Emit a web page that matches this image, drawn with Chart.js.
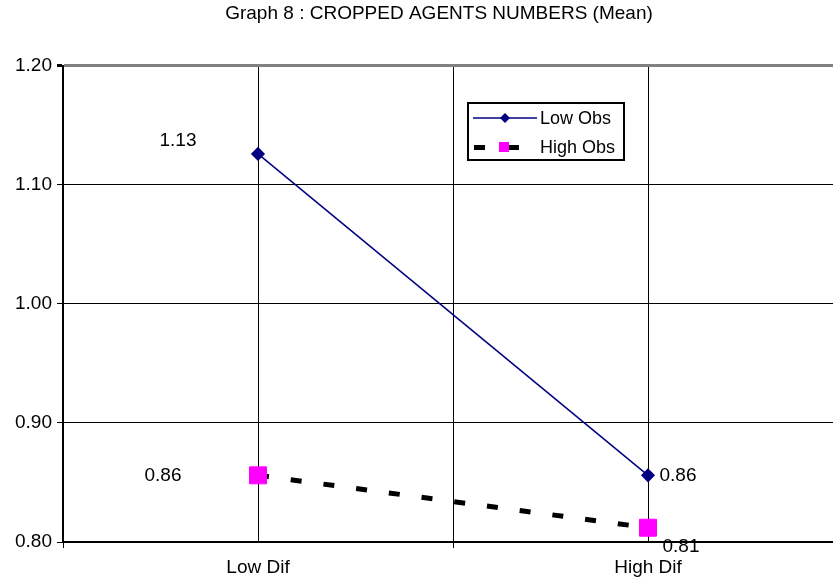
<!DOCTYPE html>
<html>
<head>
<meta charset="utf-8">
<script src="https://cdn.jsdelivr.net/npm/chart.js@4"></script>
<style>
  html, body { margin: 0; padding: 0; background: #fff; overflow: hidden; }
  #wrap { position: relative; width: 878px; height: 583px; }
</style>
</head>
<body>
<div id="wrap"><canvas id="myChart"></canvas></div>
<script>
var categories = ['Low Dif', 'High Dif'];
var lowObs = [1.126, 0.856];
var highObs = [0.856, 0.812];
var seriesNames = ['Low Obs', 'High Obs'];
var yTicks = { min: 0.8, max: 1.2, step: 0.1 };

// where each value label sits relative to its point (px)
var labelOffsets = [
  [[-80, -13], [30, 0]],
  [[-95, 0], [33, 19]]
];

Chart.defaults.font.family = 'Arial, "Liberation Sans", sans-serif';
Chart.defaults.color = '#000';

var valueLabels = {
  id: 'valueLabels',
  afterDatasetsDraw: function (chart) {
    var ctx = chart.ctx;
    ctx.save();
    ctx.font = '19px Arial, "Liberation Sans", sans-serif';
    ctx.fillStyle = '#000';
    ctx.textAlign = 'center';
    ctx.textBaseline = 'middle';
    chart.data.datasets.forEach(function (ds, i) {
      chart.getDatasetMeta(i).data.forEach(function (pt, j) {
        var off = labelOffsets[i][j];
        ctx.fillText(ds.data[j].toFixed(2), pt.x + off[0], pt.y + off[1]);
      });
    });
    ctx.restore();
  }
};

var boxLegend = {
  id: 'boxLegend',
  afterDraw: function (chart) {
    var ctx = chart.ctx;
    var ds = chart.data.datasets;
    ctx.save();
    ctx.fillStyle = '#fff';
    ctx.fillRect(468, 103, 156, 57);
    ctx.lineWidth = 2;
    ctx.strokeStyle = '#000';
    ctx.strokeRect(468, 103, 156, 57);
    // Low Obs
    ctx.strokeStyle = ds[0].borderColor;
    ctx.lineWidth = 1.5;
    ctx.beginPath();
    ctx.moveTo(473, 118);
    ctx.lineTo(537, 118);
    ctx.stroke();
    ctx.fillStyle = ds[0].borderColor;
    ctx.beginPath();
    ctx.moveTo(505, 113); ctx.lineTo(510, 118); ctx.lineTo(505, 123); ctx.lineTo(500, 118);
    ctx.closePath();
    ctx.fill();
    // High Obs
    ctx.fillStyle = '#000';
    ctx.fillRect(474, 145, 11, 5);
    ctx.fillRect(509, 145, 10, 5);
    ctx.fillStyle = ds[1].pointBackgroundColor;
    ctx.fillRect(499, 142, 10, 10);
    ctx.fillStyle = '#000';
    ctx.font = '18px Arial, "Liberation Sans", sans-serif';
    ctx.textAlign = 'left';
    ctx.textBaseline = 'middle';
    ctx.fillText(ds[0].label, 540, 119);
    ctx.fillText(ds[1].label, 540, 148);
    ctx.restore();
  }
};

var data = {
  labels: categories,
  datasets: [{
    label: seriesNames[0],
    data: lowObs,
    borderColor: '#000080',
    backgroundColor: '#000080',
    borderWidth: 1.5,
    pointStyle: 'rectRot',
    pointRadius: 6,
    pointBackgroundColor: '#000080',
    pointBorderColor: '#000080',
    tension: 0
  }, {
    label: seriesNames[1],
    data: highObs,
    borderColor: '#000',
    backgroundColor: '#ff00ff',
    borderWidth: 5,
    borderDash: [11, 22],
    pointStyle: 'rect',
    pointRadius: 12,
    pointBackgroundColor: '#ff00ff',
    pointBorderColor: '#ff00ff',
    pointBorderWidth: 1,
    tension: 0
  }]
};

var config = {
  type: 'line',
  data: data,
  options: {
    responsive: true,
    maintainAspectRatio: false,
    animation: false,
    layout: { padding: 0 },
    plugins: {
      legend: { display: false },
      tooltip: { enabled: false },
      title: {
        display: true,
        text: 'Graph 8 : CROPPED AGENTS NUMBERS (Mean)',
        font: { size: 19, weight: 'normal' },
        color: '#000',
        padding: { top: 2, bottom: 41 }
      }
    },
    scales: {
      x: {
        type: 'category',
        offset: true,
        grid: { offset: true, color: '#000', lineWidth: 1, drawTicks: true, tickLength: 6 },
        border: { display: true, color: '#000', width: 2 },
        ticks: { font: { size: 19 }, color: '#000', padding: 8, maxRotation: 0 },
        afterFit: function (s) { s.height = 41; }
      },
      x2: {
        type: 'category',
        position: 'top',
        offset: true,
        grid: { offset: false, color: '#000', lineWidth: 1, drawTicks: false },
        border: { display: false },
        ticks: { display: false },
        afterFit: function (s) { s.height = 0; }
      },
      y: {
        min: yTicks.min,
        max: yTicks.max,
        ticks: {
          stepSize: yTicks.step,
          font: { size: 19 },
          color: '#000',
          padding: 5,
          callback: function (v) { return Number(v).toFixed(2); }
        },
        grid: {
          color: function (c) { return c.tick && Math.abs(c.tick.value - yTicks.max) < 1e-6 ? '#808080' : '#000'; },
          lineWidth: function (c) { return c.tick && Math.abs(c.tick.value - yTicks.max) < 1e-6 ? 3 : 1; },
          tickColor: '#000',
          tickLength: 6
        },
        border: { display: true, color: '#000', width: 2 },
        afterFit: function (s) { s.width = 63; }
      },
      yRight: {
        type: 'linear',
        position: 'right',
        grid: { display: false, drawTicks: false },
        border: { display: false },
        ticks: { display: false },
        afterFit: function (s) { s.width = 35; }
      }
    }
  },
  plugins: [valueLabels, boxLegend]
};

var myChart = new Chart(document.getElementById('myChart'), config);
</script>
</body>
</html>
